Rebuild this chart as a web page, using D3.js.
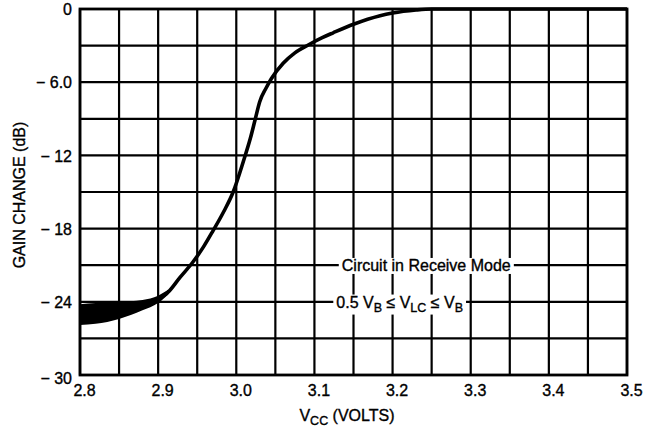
<!DOCTYPE html>
<html>
<head>
<meta charset="utf-8">
<script src="https://cdn.jsdelivr.net/npm/d3@7"></script>
<style>
  html, body { margin: 0; padding: 0; background: #fff; }
  svg { display: block; }
  text { font-family: "Liberation Sans", Arial, sans-serif; fill: #000; stroke: #000; stroke-width: 0.35px; }
</style>
</head>
<body>
<svg id="chart" width="645" height="434"></svg>
<script>
// ---- data ----
const xTicks = [2.8, 2.9, 3.0, 3.1, 3.2, 3.3, 3.4, 3.5];
const xTickLabels = ["2.8", "2.9", "3.0", "3.1", "3.2", "3.3", "3.4", "3.5"];
const yTicks = [0, -6, -12, -18, -24, -30];
const yTickLabels = ["0", "\u2212 6.0", "\u2212 12", "\u2212 18", "\u2212 24", "\u2212 30"];
const gridV = [2.8, 2.85, 2.9, 2.95, 3.0, 3.05, 3.1, 3.15, 3.2, 3.25, 3.3, 3.35, 3.4, 3.45, 3.5];
const gridDb = [0, -3, -6, -9, -12, -15, -18, -21, -24, -27, -30];

// main gain curve (centre line)
const curveV  = [2.9, 2.913, 2.928, 2.945, 2.958, 2.970, 2.984, 2.996, 3.009, 3.018, 3.024, 3.030, 3.038, 3.045, 3.06, 3.075, 3.092, 3.11, 3.124, 3.15, 3.184, 3.2, 3.23, 3.25, 3.3, 3.4, 3.5];
const curveDb = [-23.8, -23.2, -22.0, -20.7, -19.5, -18.2, -16.6, -15.0, -12.5, -10.6, -9.1, -7.6, -6.5, -5.7, -4.45, -3.6, -2.95, -2.35, -1.95, -1.25, -0.55, -0.33, -0.08, 0, 0, 0, 0];

// spread band at low Vcc
const bandV      = [2.8, 2.82, 2.85, 2.88, 2.9, 2.913];
const bandTop    = [-24.2, -24.1, -24.0, -23.85, -23.5, -23.0];
const bandBottom = [-25.9, -25.8, -25.4, -24.7, -24.1, -23.4];

// ---- layout ----
const svg = d3.select("#chart");
const x = d3.scaleLinear().domain([2.8, 3.5]).range([80, 627]);
const y = d3.scaleLinear().domain([0, -30]).range([9, 375]);
const FS = 16;

// grid
svg.append("g").selectAll("line").data(gridV).join("line")
  .attr("x1", d => x(d)).attr("x2", d => x(d))
  .attr("y1", y(0)).attr("y2", y(-30))
  .attr("stroke", "#000").attr("stroke-width", 2.2);
svg.append("g").selectAll("line").data(gridDb).join("line")
  .attr("x1", x(2.8)).attr("x2", x(3.5))
  .attr("y1", d => y(d)).attr("y2", d => y(d))
  .attr("stroke", "#000").attr("stroke-width", 2.2);
// frame
svg.append("rect")
  .attr("x", x(2.8)).attr("y", y(0))
  .attr("width", x(3.5) - x(2.8)).attr("height", y(-30) - y(0))
  .attr("fill", "none").attr("stroke", "#000").attr("stroke-width", 2.8);

// band
const bandData = bandV.map((v, i) => ({ v, t: bandTop[i], b: bandBottom[i] }));
svg.append("path").datum(bandData)
  .attr("d", d3.area().x(d => x(d.v)).y0(d => y(d.b)).y1(d => y(d.t)).curve(d3.curveMonotoneX))
  .attr("fill", "#000");

// curve
const curveData = curveV.map((v, i) => ({ v, d: curveDb[i] }));
svg.append("path").datum(curveData)
  .attr("d", d3.line().x(d => x(d.v)).y(d => y(d.d)).curve(d3.curveMonotoneX))
  .attr("fill", "none").attr("stroke", "#000").attr("stroke-width", 3.6)
  .attr("stroke-linejoin", "round");

// axes
const yAxis = d3.axisLeft(y).tickValues(yTicks)
  .tickFormat((d, i) => yTickLabels[i]).tickSize(0).tickPadding(8);
const gy = svg.append("g").attr("transform", `translate(${x(2.8)},0)`).call(yAxis);
gy.select(".domain").remove();
gy.selectAll("text").style("font-size", FS + "px")
  .attr("dy", (d) => d === -30 ? "0.52em" : "0.36em");

const xAxis = d3.axisBottom(x).tickValues(xTicks)
  .tickFormat((d, i) => xTickLabels[i]).tickSize(0).tickPadding(10);
const gx = svg.append("g").attr("transform", `translate(0,${y(-30)})`).call(xAxis);
gx.select(".domain").remove();
gx.selectAll("text").style("font-size", FS + "px").attr("dx", 4);
svg.selectAll(".tick text").attr("font-family", null).attr("fill", "#000");
svg.selectAll(".tick").attr("font-size", null);

// axis titles
svg.append("text")
  .attr("transform", `translate(25,195) rotate(-90)`)
  .attr("text-anchor", "middle")
  .style("font-size", FS + "px")
  .text("GAIN CHANGE (dB)");

const xt = svg.append("text")
  .attr("x", 347).attr("y", 421)
  .attr("text-anchor", "middle")
  .style("font-size", FS + "px");
xt.append("tspan").text("V");
xt.append("tspan").attr("dy", 4).style("font-size", "12.5px").text("CC");
xt.append("tspan").attr("dy", -4).text(" (VOLTS)");

// annotations
function note(v, db, build) {
  const g = svg.append("g");
  const bg = g.append("rect").attr("fill", "#fff").attr("stroke", "none");
  const t = g.append("text").attr("x", x(v)).attr("y", y(db)).attr("dy", "0.36em")
    .style("font-size", FS + "px");
  build(t);
  const bb = t.node().getBBox();
  bg.attr("x", bb.x - 3).attr("y", bb.y + 1).attr("width", bb.width + 6).attr("height", bb.height - 1);
}
note(3.135, -21, t => t.text("Circuit in Receive Mode"));
note(3.128, -24, t => {
  t.append("tspan").text("0.5 V");
  t.append("tspan").attr("dy", 4).style("font-size", "12.5px").text("B");
  t.append("tspan").attr("dy", -4).text(" \u2264 V");
  t.append("tspan").attr("dy", 4).style("font-size", "12.5px").text("LC");
  t.append("tspan").attr("dy", -4).text(" \u2264 V");
  t.append("tspan").attr("dy", 4).style("font-size", "12.5px").text("B");
});
</script>
</body>
</html>
